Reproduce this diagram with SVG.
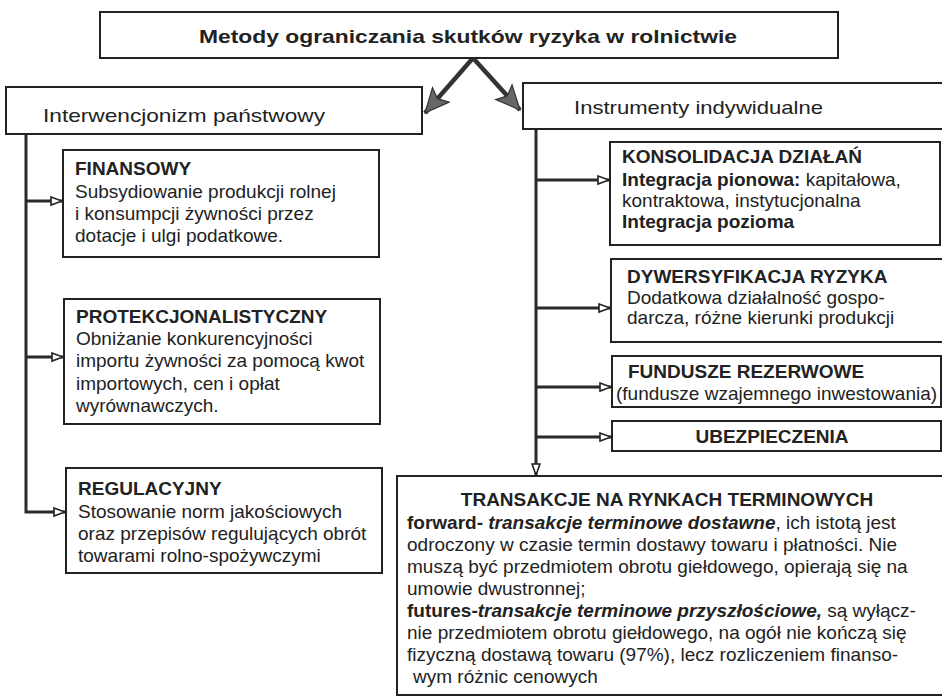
<svg xmlns="http://www.w3.org/2000/svg" width="942" height="697" viewBox="0 0 942 697">
<style>
text{font-family:"Liberation Sans",Arial,sans-serif;fill:#222;font-size:19px}
.box{fill:#fff;stroke:#222;stroke-width:2}
.b{font-weight:bold}
.bi{font-weight:bold;font-style:italic}
.c{text-anchor:middle}
.conn{fill:none;stroke:#2a2a2a;stroke-width:3}
.big{fill:none;stroke:#333;stroke-width:4.5}
</style>
<defs>
<marker id="tri" markerUnits="userSpaceOnUse" markerWidth="14" markerHeight="12" refX="12" refY="6" orient="auto">
<path d="M1,2 L12,6 L1,10 z" fill="#fff" stroke="#222" stroke-width="1.6"/>
</marker>
<marker id="bigArrow" markerUnits="userSpaceOnUse" markerWidth="28" markerHeight="26" refX="25" refY="13" orient="auto">
<path d="M1,2 L25,13 L1,24 L6,13 z" fill="#666" stroke="#333" stroke-width="1.2"/>
</marker>
</defs>
<rect width="942" height="697" fill="#fff"/>

<g id="connectors">
<path class="big" d="M473,58 L425,113" marker-end="url(#bigArrow)"/>
<path class="big" d="M473,58 L520,110" marker-end="url(#bigArrow)"/>
<path class="conn" d="M26,134 V512 H65" marker-end="url(#tri)"/>
<path class="conn" d="M26,201 H62" marker-end="url(#tri)"/>
<path class="conn" d="M26,357 H63" marker-end="url(#tri)"/>
<path class="conn" d="M536,129 V475" marker-end="url(#tri)"/>
<path class="conn" d="M536,180 H609" marker-end="url(#tri)"/>
<path class="conn" d="M536,308 H610" marker-end="url(#tri)"/>
<path class="conn" d="M536,387 H611" marker-end="url(#tri)"/>
<path class="conn" d="M536,437 H611" marker-end="url(#tri)"/>
</g>

<g id="title">
<rect class="box" x="100" y="12" width="738" height="46"/>
<text class="b c" x="468" y="43" font-size="22" textLength="538" lengthAdjust="spacingAndGlyphs">Metody ograniczania skutków ryzyka w rolnictwie</text>
</g>

<g id="interwencjonizm">
<rect class="box" x="6" y="87" width="416" height="47"/>
<text x="43" y="122" font-size="22" textLength="282" lengthAdjust="spacingAndGlyphs">Interwencjonizm państwowy</text>
</g>

<g id="instrumenty">
<rect class="box" x="523" y="83" width="430" height="46"/>
<text x="574" y="114" font-size="22" textLength="249" lengthAdjust="spacingAndGlyphs">Instrumenty indywidualne</text>
</g>

<g id="finansowy">
<rect class="box" x="63" y="150" width="316" height="107"/>
<text class="b" x="75" y="175">FINANSOWY</text>
<text x="75" y="198">Subsydiowanie produkcji rolnej</text>
<text x="75" y="220">i konsumpcji żywności przez</text>
<text x="75" y="242">dotacje i ulgi podatkowe.</text>
</g>

<g id="protekcjonalistyczny">
<rect class="box" x="64" y="299" width="316" height="125"/>
<text class="b" x="76" y="323">PROTEKCJONALISTYCZNY</text>
<text x="76" y="345">Obniżanie konkurencyjności</text>
<text x="76" y="367">importu żywności za pomocą kwot</text>
<text x="76" y="390">importowych, cen i opłat</text>
<text x="76" y="412">wyrównawczych.</text>
</g>

<g id="regulacyjny">
<rect class="box" x="66" y="468" width="316" height="105"/>
<text class="b" x="78" y="495">REGULACYJNY</text>
<text x="78" y="518">Stosowanie norm jakościowych</text>
<text x="78" y="540">oraz przepisów regulujących obrót</text>
<text x="78" y="562">towarami rolno-spożywczymi</text>
</g>

<g id="konsolidacja">
<rect class="box" x="610" y="142" width="330" height="103"/>
<text class="b" x="622" y="163">KONSOLIDACJA DZIAŁAŃ</text>
<text x="622" y="186"><tspan class="b">Integracja pionowa:</tspan>  kapitałowa,</text>
<text x="622" y="207">kontraktowa, instytucjonalna</text>
<text class="b" x="622" y="228">Integracja pozioma</text>
</g>

<g id="dywersyfikacja">
<rect class="box" x="611" y="259" width="340" height="83"/>
<text class="b" x="627" y="283">DYWERSYFIKACJA RYZYKA</text>
<text x="627" y="304">Dodatkowa działalność gospo-</text>
<text x="627" y="324">darcza, różne kierunki produkcji</text>
</g>

<g id="fundusze">
<rect class="box" x="612" y="356" width="329" height="51"/>
<text class="b" x="628" y="378">FUNDUSZE REZERWOWE</text>
<text x="616" y="400">(fundusze wzajemnego inwestowania)</text>
</g>

<g id="ubezpieczenia">
<rect class="box" x="612" y="421" width="329" height="30"/>
<text class="b c" x="772" y="443">UBEZPIECZENIA</text>
</g>

<g id="transakcje">
<rect class="box" x="397" y="476" width="555" height="219"/>
<text class="b c" x="667" y="506">TRANSAKCJE NA RYNKACH TERMINOWYCH</text>
<text x="407" y="529"><tspan class="b">forward- </tspan><tspan class="bi">transakcje terminowe dostawne</tspan>, ich istotą  jest</text>
<text x="407" y="551">odroczony w czasie termin dostawy towaru i płatności. Nie</text>
<text x="407" y="573">muszą być przedmiotem obrotu giełdowego, opierają się na</text>
<text x="407" y="595">umowie dwustronnej;</text>
<text x="407" y="617"><tspan class="b">futures-</tspan><tspan class="bi">transakcje terminowe przyszłościowe,</tspan> są wyłącz-</text>
<text x="407" y="639">nie przedmiotem obrotu giełdowego, na ogół nie kończą się</text>
<text x="407" y="661">fizyczną dostawą towaru (97%), lecz rozliczeniem finanso-</text>
<text x="413" y="683">wym różnic cenowych</text>
</g>
</svg>
